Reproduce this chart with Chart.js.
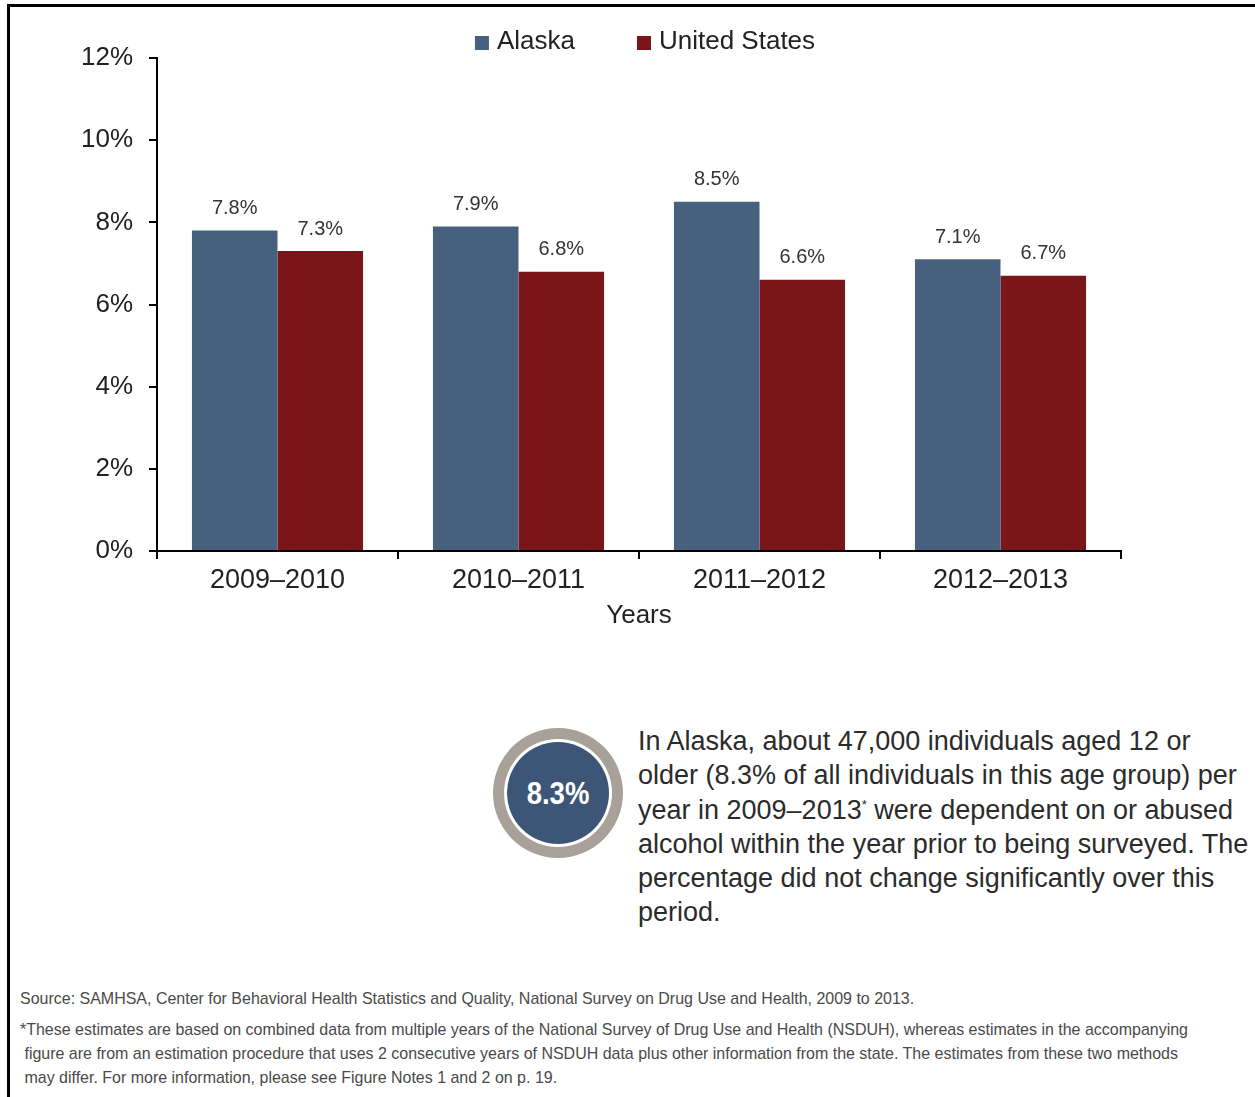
<!DOCTYPE html>
<html>
<head>
<meta charset="utf-8">
<script src="https://cdn.jsdelivr.net/npm/chart.js@4.4.1/dist/chart.umd.min.js"></script>
<style>
  html, body { margin: 0; padding: 0; background: #fff; }
  body { width: 1255px; height: 1097px; position: relative; overflow: hidden; font-family: "Liberation Sans", Arial, sans-serif; }
  #frame { position: absolute; left: 7px; top: 4px; width: 1260px; height: 1100px; border-left: 3px solid #000; border-top: 3px solid #000; box-sizing: border-box; }
  #wrap { position: absolute; left: 0; top: 0; width: 1255px; height: 640px; }
  #badge { position: absolute; left: 493px; top: 728px; width: 130px; height: 130px; border-radius: 50%; background: #a7a199; }
  #badge .inner { position: absolute; left: 11px; top: 11px; width: 108px; height: 108px; border-radius: 50%; background: #fff; }
  #badge .core { position: absolute; left: 14px; top: 14px; width: 102px; height: 102px; border-radius: 50%; background: #3d5677; }
  #badge .core span { position: absolute; left: 0; top: 0; width: 102px; line-height: 102px; text-align: center; color: #fff; font-weight: bold; font-size: 32px; transform: scaleX(0.86); }
  #desc { position: absolute; left: 638px; top: 724px; font-size: 27px; line-height: 34.3px; color: #2b2b2b; white-space: nowrap; }
  .note { position: absolute; left: 20px; font-size: 17px; color: #4a4a4a; white-space: nowrap; transform: scaleX(0.94); transform-origin: 0 0; }
</style>
</head>
<body>
<div id="frame"></div>
<div id="wrap"><canvas id="c" width="1255" height="640"></canvas></div>
<div id="badge"><div class="inner"></div><div class="core"><span>8.3%</span></div></div>
<div id="desc">In Alaska, about 47,000 individuals aged 12 or<br>older (8.3% of all individuals in this age group) per<br>year in 2009–2013<sup style="font-size:13px;vertical-align:10px;line-height:0">*</sup> were dependent on or abused<br>alcohol within the year prior to being surveyed. The<br>percentage did not change significantly over this<br>period.</div>
<div class="note" style="top:989px;">Source: SAMHSA, Center for Behavioral Health Statistics and Quality, National Survey on Drug Use and Health, 2009 to 2013.</div>
<div class="note" style="top:1020px;">*These estimates are based on combined data from multiple years of the National Survey of Drug Use and Health (NSDUH), whereas estimates in the accompanying</div>
<div class="note" style="top:1044px;">&nbsp;figure are from an estimation procedure that uses 2 consecutive years of NSDUH data plus other information from the state. The estimates from these two methods</div>
<div class="note" style="top:1068px;">&nbsp;may differ. For more information, please see Figure Notes 1 and 2 on p. 19.</div>
<script>
const categories = ["2009–2010", "2010–2011", "2011–2012", "2012–2013"];
const alaska = [7.8, 7.9, 8.5, 7.1];
const unitedStates = [7.3, 6.8, 6.6, 6.7];
const yTicks = [0, 2, 4, 6, 8, 10, 12];
const seriesNames = ["Alaska", "United States"];
const seriesColors = ["#47607e", "#7a151a"];

const FONT = "'Liberation Sans', Arial, sans-serif";

const valueLabels = {
  id: 'valueLabels',
  afterDatasetsDraw(chart) {
    const ctx = chart.ctx;
    ctx.save();
    ctx.font = "20px " + FONT;
    ctx.fillStyle = "#333";
    ctx.textAlign = "center";
    ctx.textBaseline = "bottom";
    chart.data.datasets.forEach((ds, i) => {
      chart.getDatasetMeta(i).data.forEach((bar, j) => {
        ctx.fillText(ds.data[j].toFixed(1) + "%", bar.x, bar.y - 12);
      });
    });
    ctx.restore();
  }
};

const customLegend = {
  id: 'customLegend',
  afterDraw(chart) {
    const ctx = chart.ctx;
    ctx.save();
    ctx.font = "26px " + FONT;
    ctx.textBaseline = "middle";
    const y = 42;
    const box = 14, gapBox = 8, gapItems = 62;
    const items = chart.data.datasets.map(d => ({ label: d.label, color: d.backgroundColor, w: ctx.measureText(d.label).width }));
    let total = items.reduce((s, it) => s + box + gapBox + it.w, 0) + gapItems * (items.length - 1);
    let x = 645 - total / 2;
    items.forEach(it => {
      ctx.fillStyle = it.color;
      ctx.fillRect(x, y - box / 2 + 1, box, box);
      x += box + gapBox;
      ctx.fillStyle = "#222";
      ctx.fillText(it.label, x, y);
      x += it.w + gapItems;
    });
    ctx.restore();
  }
};

new Chart(document.getElementById('c'), {
  type: 'bar',
  data: {
    labels: categories,
    datasets: [
      { label: seriesNames[0], data: alaska, backgroundColor: seriesColors[0] },
      { label: seriesNames[1], data: unitedStates, backgroundColor: seriesColors[1] }
    ]
  },
  options: {
    responsive: false,
    animation: false,
    devicePixelRatio: 1,
    layout: { padding: { top: 58, right: 134, left: 0, bottom: 0 } },
    datasets: { bar: { categoryPercentage: 0.71, barPercentage: 1.0 } },
    plugins: { legend: { display: false }, tooltip: { enabled: false } },
    scales: {
      x: {
        afterFit(s) { s.height = 89; },
        grid: { display: true, drawOnChartArea: false, offset: true, tickLength: 8, color: '#000', lineWidth: 2 },
        border: { display: true, color: '#000', width: 2 },
        ticks: { font: { size: 27, family: FONT }, color: '#222', padding: 5, maxRotation: 0 },
        title: { display: true, text: 'Years', font: { size: 26, family: FONT }, color: '#222', padding: { top: 2, bottom: 9 } }
      },
      y: {
        min: 0, max: 12,
        afterFit(s) { s.width = 157; },
        afterBuildTicks(s) { s.ticks = yTicks.map(v => ({ value: v })); },
        grid: { display: true, drawOnChartArea: false, tickLength: 8, color: '#000', lineWidth: 2 },
        border: { display: true, color: '#000', width: 2 },
        ticks: { font: { size: 26, family: FONT }, color: '#222', padding: 16, callback: v => v + '%' }
      }
    }
  },
  plugins: [valueLabels, customLegend]
});
</script>
</body>
</html>
